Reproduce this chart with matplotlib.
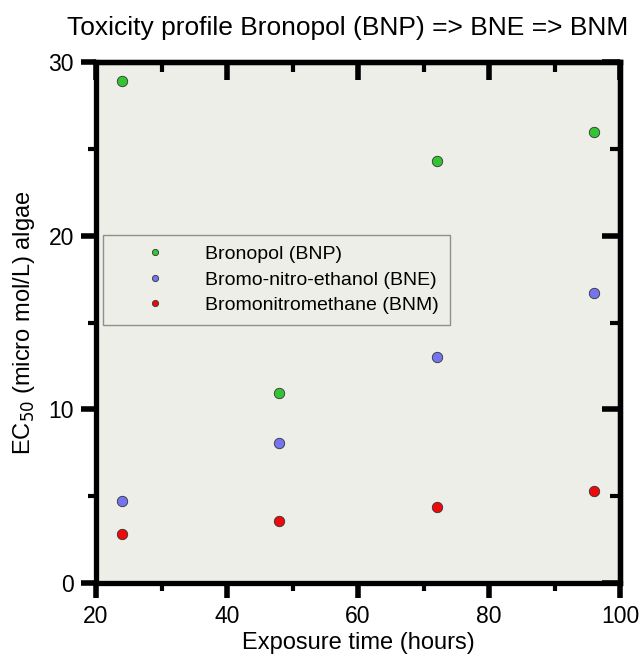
import matplotlib
matplotlib.use('Agg')
import matplotlib.pyplot as plt
from matplotlib.ticker import MultipleLocator

plt.rcParams['font.family'] = ['Liberation Sans', 'DejaVu Sans']

hours = [24, 48, 72, 96]
bnp = [28.9, 10.95, 24.3, 25.95]
bne = [4.73, 8.05, 13.0, 16.7]
bnm = [2.8, 3.6, 4.4, 5.28]

names = ['Bronopol (BNP)', 'Bromo-nitro-ethanol (BNE)', 'Bromonitromethane (BNM)']
cols = ['#33c433', '#7474ee', '#ee0a0a']

fig = plt.figure(figsize=(6.4, 6.62), dpi=100)
ax = fig.add_axes([0.15, 0.1193, 0.819, 0.787])
ax.set_facecolor('#eeeee8')

for y, n, c in zip([bnp, bne, bnm], names, cols):
    ax.plot(hours, y, 'o', color=c, markeredgecolor='#333333', markeredgewidth=0.6,
            markersize=7.5, label=n, zorder=3)

ax.set_xlim(20, 100)
ax.set_ylim(0, 30)
ax.xaxis.set_major_locator(MultipleLocator(20))
ax.xaxis.set_minor_locator(MultipleLocator(10))
ax.yaxis.set_major_locator(MultipleLocator(10))
ax.yaxis.set_minor_locator(MultipleLocator(5))

for s in ax.spines.values():
    s.set_linewidth(3.8)
ax.tick_params(which='major', direction='out', length=11, width=4, labelsize=16.5, pad=5)
ax.tick_params(which='minor', direction='out', length=6, width=3)

# inward ticks on top and right
top = ax.secondary_xaxis('top')
top.xaxis.set_major_locator(MultipleLocator(20))
top.xaxis.set_minor_locator(MultipleLocator(10))
top.tick_params(which='major', direction='in', length=13, width=4, labeltop=False)
top.tick_params(which='minor', direction='in', length=7, width=3)
top.spines['top'].set_linewidth(3.8)
right = ax.secondary_yaxis('right')
right.yaxis.set_major_locator(MultipleLocator(10))
right.yaxis.set_minor_locator(MultipleLocator(5))
right.tick_params(which='major', direction='in', length=13, width=4, labelright=False)
right.tick_params(which='minor', direction='in', length=7, width=3)
right.spines['right'].set_linewidth(3.8)

ax.set_xlabel('Exposure time (hours)', fontsize=17, labelpad=3)
ax.set_ylabel('EC$_{50}$ (micro mol/L) algae', fontsize=17, labelpad=8)
fig.text(0.543, 0.958, 'Toxicity profile Bronopol (BNP) => BNE => BNM', fontsize=19,
         ha='center', va='center')

leg = ax.legend(loc='upper left', bbox_to_anchor=(0.0134, 0.668), fontsize=14,
                frameon=True, fancybox=False, borderpad=0.55, labelspacing=0.4,
                handletextpad=0.5, borderaxespad=0, handlelength=4.2, markerscale=0.6)
leg.get_frame().set_edgecolor('#777777')
leg.get_frame().set_facecolor('#eeeee8')
leg.get_frame().set_linewidth(1)

fig.savefig('out.png', dpi=100)
